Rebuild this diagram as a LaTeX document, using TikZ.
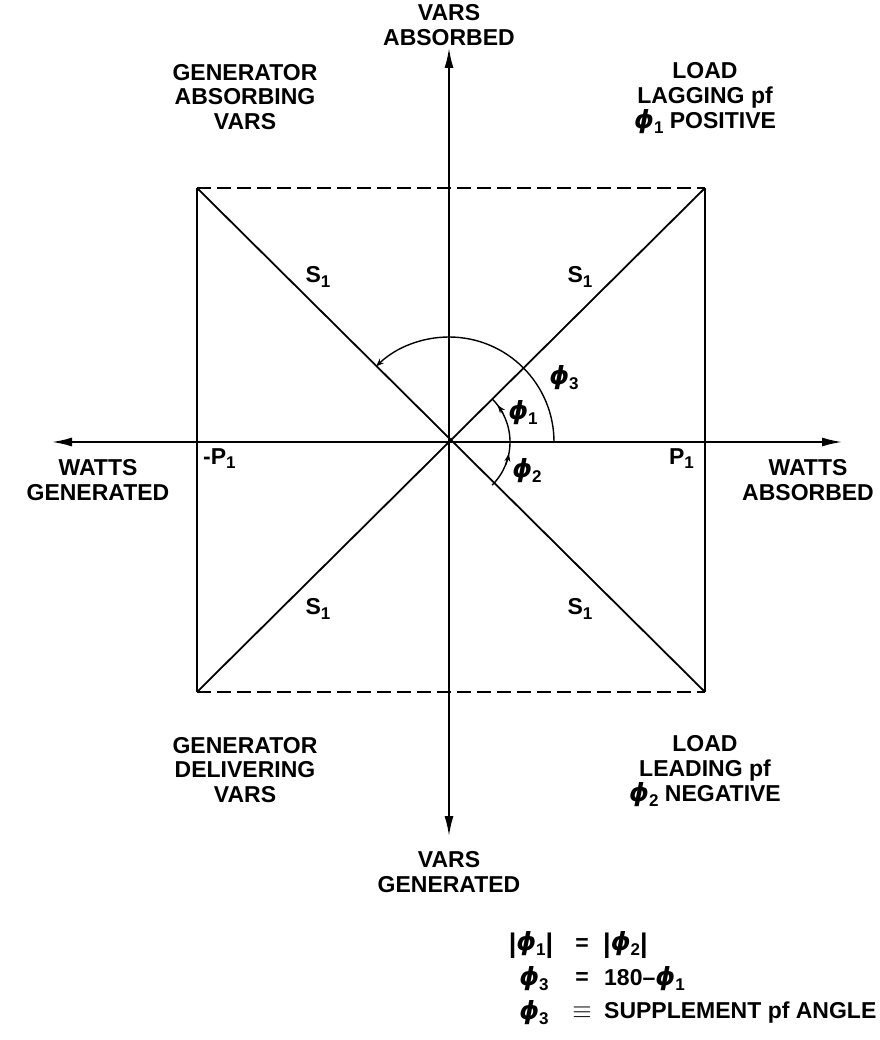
\documentclass[tikz,border=0pt]{standalone}
\usepackage{amsmath}
\usepackage{fontspec}
\setmainfont{Liberation Sans}
\newfontfamily\phfont{DejaVu Sans}
\usetikzlibrary{arrows.meta}
\newcommand{\phs}{{\phfont\fontsize{25}{25}\selectfont\bfseries\itshape ϕ}}
\newcommand{\sbs}[1]{\raisebox{-0.4ex}{\fontsize{17}{17}\selectfont #1}}
\newcommand{\ph}[1]{\phs\sbs{#1}}
\newcommand{\vb}{{\fontsize{27}{27}\selectfont\raisebox{-0.1ex}{|}}}
\begin{document}
\begin{tikzpicture}[x=1pt,y=-1pt,
  lbl/.style={font=\fontsize{23}{24.5}\selectfont\bfseries, align=center, inner sep=0pt},
  tall/.style={font=\fontsize{23}{25}\selectfont\bfseries},
  axisline/.style={line width=1.8pt, {Latex[length=20pt,width=9pt]}-{Latex[length=20pt,width=9pt]}},
  sideline/.style={line width=1.8pt},
  dashline/.style={line width=1.8pt, dash pattern=on 14pt off 6pt},
  diagline/.style={line width=1.8pt},
  arcline/.style={line width=1.4pt},
  arctip/.style={line width=1.4pt, -{Stealth[length=8pt,width=6pt]}}]
\useasboundingbox (0,0) rectangle (879,1040);
\fill[white] (0,0) rectangle (879,1040);
% key points
\coordinate (O) at (449,442);
\coordinate (TL) at (197,188);
\coordinate (TR) at (705,188);
\coordinate (BL) at (197,692);
\coordinate (BR) at (705,692);
\coordinate (L) at (52,442);
\coordinate (R) at (842,442);
\coordinate (T) at (449,48);
\coordinate (B) at (449,836);
% square
\draw[dashline] (TL) -- (TR);
\draw[dashline] (BL) -- (BR);
\draw[sideline] (TL) -- (BL);
\draw[sideline] (TR) -- (BR);
% diagonals
\draw[diagline] (TL) -- (BR);
\draw[diagline] (TR) -- (BL);
% axes
\draw[axisline] (L) -- (R);
\draw[axisline] (T) -- (B);
% angle arcs
\draw[arctip] ([shift={(0:105)}]O) arc[start angle=0, end angle=-134, radius=105];
\draw[arcline] ([shift={(0:61)}]O) arc[start angle=0, end angle=-45, radius=61];
\draw[arctip] ([shift={(-28:61)}]O) arc[start angle=-28, end angle=-37, radius=61];
\draw[arcline] ([shift={(45:61)}]O) arc[start angle=45, end angle=0, radius=61];
\draw[arctip] ([shift={(22:61)}]O) arc[start angle=22, end angle=11, radius=61];
% angle labels
\node[lbl] (p3) at (564,378) {\ph{3}};
\node[lbl] (p1) at (523,413) {\ph{1}};
\node[lbl] (p2) at (527,471) {\ph{2}};
% S labels
\node[lbl] (s1) at (318,277) {S\sbs{1}};
\node[lbl] (s2) at (580,277) {S\sbs{1}};
\node[lbl] (s3) at (318,609) {S\sbs{1}};
\node[lbl] (s4) at (580,609) {S\sbs{1}};
% P labels
\node[lbl, anchor=north west] (mp) at (203,448) {-P\sbs{1}};
\node[lbl, anchor=north east] (pp) at (694,448) {P\sbs{1}};
% axis labels
\node[lbl] (va) at (449,25) {VARS\\ABSORBED};
\node[lbl] (vg) at (449,872) {VARS\\GENERATED};
\node[lbl] (wg) at (98,480) {WATTS\\GENERATED};
\node[lbl] (wa) at (808,480) {WATTS\\ABSORBED};
% quadrant labels
\node[lbl] (gab) at (245,97) {GENERATOR\\ABSORBING\\VARS};
\node[lbl, tall] (llag) at (705,98) {LOAD\\LAGGING pf\\\ph{1} POSITIVE};
\node[lbl] (gdel) at (245,770) {GENERATOR\\DELIVERING\\VARS};
\node[lbl, tall] (llead) at (705,771) {LOAD\\LEADING pf\\\ph{2} NEGATIVE};
% equations
\node[lbl] (e1l) at (531,945) {\vb\phs\sbs{1}\vb};
\node[lbl] (e1m) at (582,945) {=};
\node[lbl, anchor=west] (e1r) at (603,945) {\vb\phs\sbs{2}\vb};
\node[lbl] (e2l) at (534,979) {\ph{3}};
\node[lbl] (e2m) at (582,979) {=};
\node[lbl, anchor=west] (e2r) at (604,979) {180\textendash\ph{1}};
\node[lbl] (e3l) at (534,1013) {\ph{3}};
\node[lbl] (e3m) at (582,1013) {$\equiv$};
\node[lbl, anchor=west] (e3r) at (604,1013) {SUPPLEMENT pf ANGLE};
\end{tikzpicture}
\end{document}
